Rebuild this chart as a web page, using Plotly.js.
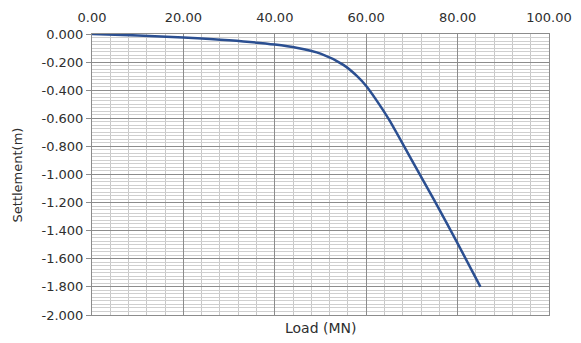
<!DOCTYPE html>
<html>
<head>
<meta charset="utf-8">
<script src="https://cdn.plot.ly/plotly-3.0.1.min.js"></script>
<style>html,body{margin:0;padding:0;background:#fff;}#chart{width:581px;height:343px;}</style>
</head>
<body>
<div id="chart"></div>
<script>
var loadMN = [0, 10, 20, 30, 40, 45, 50, 55, 58, 60, 62, 65, 70, 75, 80, 85];
var settlement = [0, -0.01, -0.025, -0.045, -0.075, -0.10, -0.14, -0.22, -0.30, -0.37, -0.46, -0.61, -0.90, -1.19, -1.49, -1.80];
var yTickVals = [0, -0.2, -0.4, -0.6, -0.8, -1.0, -1.2, -1.4, -1.6, -1.8, -2.0];
var yTickText = ["0.000", "-0.200", "-0.400", "-0.600", "-0.800", "-1.000", "-1.200", "-1.400", "-1.600", "-1.800", "-2.000"];
var xTickVals = [0, 20, 40, 60, 80, 100];
var xTickText = ["0.00", "20.00", "40.00", "60.00", "80.00", "100.00"];

var font = {family: "DejaVu Sans, sans-serif", size: 13, color: "#2e2e2e"};
var titleFont = {family: "DejaVu Sans, sans-serif", size: 14, color: "#2e2e2e"};

Plotly.newPlot("chart", [{
  x: loadMN, y: settlement, type: "scatter", mode: "lines",
  line: {color: "#2B4F91", width: 2.5, shape: "spline", smoothing: 0.8}
}], {
  width: 581, height: 343,
  margin: {l: 92, r: 32, t: 34, b: 28},
  paper_bgcolor: "#fff", plot_bgcolor: "#fff",
  showlegend: false,
  font: font,
  xaxis: {
    side: "top", range: [0, 100], tickvals: xTickVals, ticktext: xTickText,
    showgrid: true, gridcolor: "#8c8c8c", gridwidth: 1,
    minor: {dtick: 4, showgrid: true, gridcolor: "#c8c8c8", gridwidth: 1},
    ticks: "outside", ticklen: 6, tickcolor: "rgba(0,0,0,0)",
    showline: true, linecolor: "#8c8c8c", linewidth: 1, mirror: true,
    zeroline: false, tickfont: font, fixedrange: true
  },
  yaxis: {
    range: [-2, 0], tickvals: yTickVals, ticktext: yTickText,
    showgrid: true, gridcolor: "#8c8c8c", gridwidth: 1,
    minor: {dtick: 0.025, showgrid: true, gridcolor: "#cfcfcf", gridwidth: 1},
    ticks: "outside", ticklen: 5, tickcolor: "#8c8c8c",
    showline: true, linecolor: "#8c8c8c", linewidth: 1, mirror: true,
    zeroline: false, tickfont: font, fixedrange: true
  },
  annotations: [
    {text: "Load (MN)", xref: "paper", yref: "paper", x: 0.5, y: -0.046, yanchor: "middle", showarrow: false, font: titleFont},
    {text: "Settlement(m)", xref: "paper", yref: "paper", x: -0.162, y: 0.5, xanchor: "center", textangle: -90, showarrow: false, font: font}
  ]
}, {staticPlot: true});
</script>
</body>
</html>
